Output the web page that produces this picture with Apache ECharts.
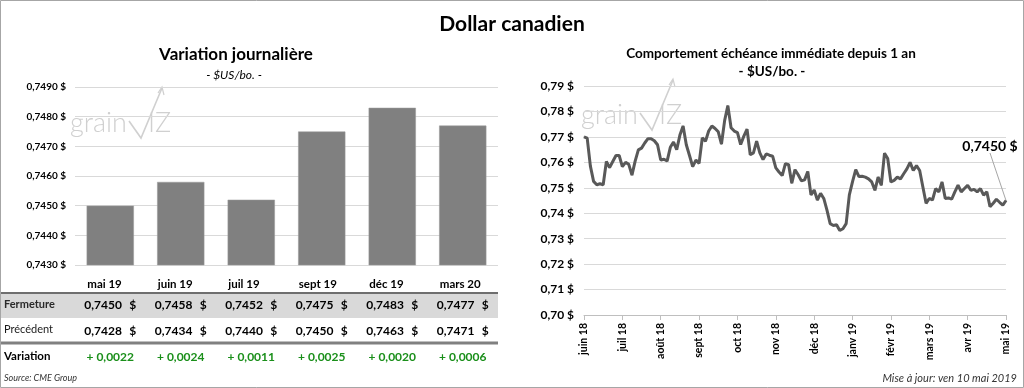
<!DOCTYPE html>
<html><head><meta charset="utf-8">
<script src="https://cdn.jsdelivr.net/npm/echarts@6/dist/echarts.min.js"></script>
<style>html,body{margin:0;padding:0;background:#fff}#c{width:1024px;height:388px}</style>
</head><body><div id="c"></div>
<script>
// ---- data ----
const barCategories = ['mai 19','juin 19','juil 19','sept 19','déc 19','mars 20'];
const fermeture = [0.7450,0.7458,0.7452,0.7475,0.7483,0.7477];
const precedent = [0.7428,0.7434,0.7440,0.7450,0.7463,0.7471];
const variation = [0.0022,0.0024,0.0011,0.0025,0.0020,0.0006];
const barAxisMin = 0.743, barAxisMax = 0.749, barAxisStep = 0.001;

const monthLabels = ['juin 18','juil 18','août 18','sept 18','oct 18','nov 18','déc 18','janv 19','févr 19','mars 19','avr 19','mai 19'];
const dailyValues = [
0.7700,0.7695,0.7585,0.7525,0.7512,0.7516,0.7512,0.7603,0.7579,0.7603,
0.7627,0.7627,0.7583,0.7600,0.7592,0.7550,0.7605,0.7649,0.7656,0.7676,
0.7693,0.7693,0.7685,0.7669,0.7609,0.7612,0.7605,0.7659,0.7680,0.7650,
0.7707,0.7743,0.7669,0.7627,0.7583,0.7609,0.7596,0.7696,0.7683,0.7723,
0.7743,0.7733,0.7720,0.7672,0.7765,0.7823,0.7736,0.7723,0.7717,0.7670,
0.7703,0.7730,0.7630,0.7637,0.7683,0.7637,0.7611,0.7633,0.7628,0.7624,
0.7578,0.7562,0.7548,0.7595,0.7591,0.7518,0.7571,0.7551,0.7527,0.7531,
0.7564,0.7472,0.7491,0.7452,0.7478,0.7458,0.7412,0.7359,0.7352,0.7355,
0.7332,0.7339,0.7359,0.7472,0.7524,0.7571,0.7544,0.7545,0.7542,0.7535,
0.7523,0.7490,0.7542,0.7510,0.7636,0.7615,0.7523,0.7529,0.7542,0.7535,
0.7555,0.7574,0.7600,0.7568,0.7587,0.7568,0.7503,0.7439,0.7458,0.7452,
0.7497,0.7484,0.7523,0.7458,0.7460,0.7455,0.7484,0.7510,0.7484,0.7497,
0.7510,0.7490,0.7494,0.7484,0.7497,0.7471,0.7484,0.7426,0.7439,0.7455,
0.7443,0.7432,0.7450];
const lineAxisMin = 0.70, lineAxisMax = 0.79, lineAxisStep = 0.01;

// ---- helpers ----
const F = 'Lato, "Open Sans", sans-serif';
const fr = (v, d) => v.toFixed(d).replace('.', ',');
const lastIdx = dailyValues.length - 1;
const stepX = lastIdx / (monthLabels.length - 1);
const lineData = dailyValues.map((v, i) => i === lastIdx
  ? {value: [i, v], label: {show: true}}
  : [i, v]);

function tableAxis(offset, fmt, rich) {
  return {
    type: 'category', gridIndex: 0, position: 'bottom', offset: offset,
    data: barCategories,
    axisLine: {show: false}, axisTick: {show: false}, splitLine: {show: false},
    axisLabel: {margin: 0, verticalAlign: 'middle', align: 'center', interval: 0,
      formatter: (val, idx) => fmt(idx), rich: rich}
  };
}
const valRich = {
  n: {width: 44, align: 'left', fontWeight: 'bold', fontSize: 12, fontFamily: F, color: '#000'},
  d: {width: 8, align: 'right', fontWeight: 'bold', fontSize: 12, fontFamily: F, color: '#000'}
};
const varRich = {
  g: {width: 48, align: 'center', fontWeight: 'bold', fontSize: 12, fontFamily: F, color: '#1a8f1a'}
};

function watermark(x, y) {
  return [
    {type: 'text', left: x, top: y, z: -5, silent: true,
      style: {text: 'grain', font: '300 27px ' + F, fill: '#d0d0d0'}},
    {type: 'polyline', z: -5, silent: true,
      shape: {points: [[x + 59, y + 11], [x + 71, y + 28], [x + 92, y - 22]]},
      style: {stroke: '#d0d0d0', lineWidth: 1.6, fill: 'none'}},
    {type: 'polyline', z: -5, silent: true,
      shape: {points: [[x + 88, y - 17], [x + 92, y - 23], [x + 94, y - 15]]},
      style: {stroke: '#d0d0d0', lineWidth: 1.2, fill: 'none'}},
    {type: 'text', left: x + 78, top: y, z: -5, silent: true,
      style: {text: 'IZ', font: '300 27px ' + F, fill: '#d0d0d0'}}
  ];
}

const chart = echarts.init(document.getElementById('c'));
chart.setOption({
  animation: false,
  backgroundColor: '#fff',
  title: [
    {text: 'Dollar canadien', left: 'center', top: 9,
      textStyle: {fontFamily: F, fontSize: 21, fontWeight: 'bold', color: '#000'}},
    {text: 'Variation journalière', left: 231, textAlign: 'center', top: 41,
      textStyle: {fontFamily: F, fontSize: 17, fontWeight: 'bold', color: '#000'}},
    {text: '- $US/bo. -', left: 229, textAlign: 'center', top: 64,
      textStyle: {fontFamily: F, fontSize: 12, fontStyle: 'italic', fontWeight: 'normal', color: '#000'}},
    {text: 'Comportement échéance immédiate depuis 1 an', left: 766, textAlign: 'center', top: 42,
      textStyle: {fontFamily: F, fontSize: 13.5, fontWeight: 'bold', color: '#000'}},
    {text: '- $US/bo. -', left: 767, textAlign: 'center', top: 60,
      textStyle: {fontFamily: F, fontSize: 13.5, fontWeight: 'bold', color: '#000'}}
  ],
  grid: [
    {left: 75, right: 526, top: 87, bottom: 123},
    {left: 584, right: 18, top: 86, bottom: 73}
  ],
  xAxis: [
    {type: 'category', gridIndex: 0, data: barCategories,
      axisLine: {show: false}, axisTick: {show: false},
      axisLabel: {margin: 13, interval: 0, align: 'center',
        formatter: v => '{h|' + v + '}',
        rich: {h: {width: 46, align: 'left', color: '#000', fontWeight: 'bold', fontSize: 11.5, fontFamily: F}}}},
    tableAxis(40, i => '{n|' + fr(fermeture[i], 4) + '}{d|$}', valRich),
    tableAxis(66, i => '{n|' + fr(precedent[i], 4) + '}{d|$}', valRich),
    tableAxis(92, i => '{g|+ ' + fr(variation[i], 4) + '}', varRich),
    {type: 'value', gridIndex: 1, min: 0, max: lastIdx, interval: stepX,
      axisLine: {show: true, lineStyle: {color: '#bfbfbf'}},
      axisTick: {show: true, length: 5, lineStyle: {color: '#bfbfbf'}},
      splitLine: {show: false},
      axisLabel: {rotate: 90, margin: 8, color: '#000', fontWeight: 'bold', fontSize: 10.5, fontFamily: F,
        showMaxLabel: true, showMinLabel: true,
        formatter: v => monthLabels[Math.round(v / stepX)] || ''}}
  ],
  yAxis: [
    {type: 'value', gridIndex: 0, min: barAxisMin, max: barAxisMax, interval: barAxisStep,
      axisLine: {show: false}, axisTick: {show: false},
      splitLine: {lineStyle: {color: '#d9d9d9'}},
      axisLabel: {margin: 9, color: '#000', fontWeight: 'bold', fontSize: 10, fontFamily: F,
        formatter: v => fr(v, 4) + ' $'}},
    {type: 'value', gridIndex: 1, min: lineAxisMin, max: lineAxisMax, interval: lineAxisStep,
      axisLine: {show: false}, axisTick: {show: false},
      splitLine: {lineStyle: {color: '#d9d9d9'}},
      axisLabel: {margin: 10, color: '#000', fontWeight: 'bold', fontSize: 12, fontFamily: F,
        formatter: v => fr(v, 2) + ' $'}}
  ],
  series: [
    {type: 'bar', xAxisIndex: 0, yAxisIndex: 0, data: fermeture, barCategoryGap: '33%',
      itemStyle: {color: '#808080', borderColor: '#9a9a9a', borderWidth: 0.5}},
    {type: 'line', xAxisIndex: 4, yAxisIndex: 1, data: lineData,
      showSymbol: true, symbol: 'circle', symbolSize: 1,
      itemStyle: {color: '#595959'},
      lineStyle: {color: '#595959', width: 3},
      label: {show: false, position: 'top', color: '#000', fontWeight: 'bold', fontSize: 14, fontFamily: F,
        formatter: p => fr(p.value[1], 4) + ' $'},
      labelLine: {show: true, lineStyle: {color: '#a6a6a6', width: 1}},
      labelLayout: p => p.dataIndex === lastIdx ? {dx: -16, dy: -42} : {}
    }
  ],
  graphic: [
    {type: 'rect', z: -10, silent: true, shape: {x: 0, y: 294, width: 498, height: 24}, style: {fill: '#d9d9d9'}},
    {type: 'line', silent: true, shape: {x1: 0, y1: 293, x2: 498, y2: 293}, style: {stroke: '#6e6e6e', lineWidth: 2}},
    {type: 'line', silent: true, shape: {x1: 0, y1: 343, x2: 498, y2: 343}, style: {stroke: '#808080', lineWidth: 3}},
    {type: 'text', left: 4, top: 299, style: {text: 'Fermeture', font: 'bold 11px ' + F, fill: '#2a2a2a'}},
    {type: 'text', left: 4, top: 324, style: {text: 'Précédent', font: '400 11px ' + F, fill: '#1a1a1a'}},
    {type: 'text', left: 4, top: 350, style: {text: 'Variation', font: 'bold 11.5px ' + F, fill: '#000'}},
    {type: 'text', left: 4, top: 374, style: {text: 'Source: CME Group', font: 'italic 9px ' + F, fill: '#333'}},
    {type: 'text', right: 7, top: 373, style: {text: 'Mise à jour: ven 10 mai 2019', font: 'italic 11px ' + F, fill: '#333'}},
    {type: 'rect', silent: true, shape: {x: 0.5, y: 0.5, width: 1023, height: 387}, style: {fill: 'none', stroke: '#a6a6a6', lineWidth: 1}}
  ].concat(watermark(70, 110), watermark(581, 102))
});
</script></body></html>
